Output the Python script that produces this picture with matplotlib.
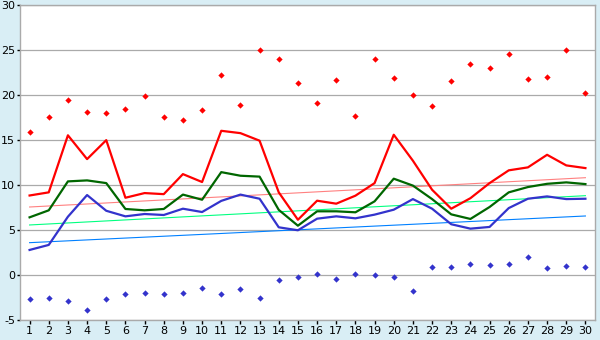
import matplotlib
matplotlib.use("Agg")
import matplotlib.pyplot as plt

plt.rcParams["axes.unicode_minus"] = False

days = list(range(1, 31))

# daily maximum / minimum points
max_points = [15.85, 17.5, 19.4, 18.1, 18.0, 18.4, 19.85, 17.5, 17.2, 18.3,
              22.2, 18.85, 25.0, 24.0, 21.3, 19.1, 21.6, 17.7, 24.0, 21.85,
              19.95, 18.75, 21.5, 23.4, 22.95, 24.5, 21.75, 21.95, 25.0, 20.2]
min_points = [-2.7, -2.6, -2.9, -3.9, -2.7, -2.15, -2.0, -2.15, -2.0, -1.5,
              -2.15, -1.6, -2.6, -0.6, -0.25, 0.07, -0.5, 0.07, -0.04, -0.25,
              -1.8, 0.85, 0.85, 1.2, 1.07, 1.2, 1.96, 0.74, 0.96, 0.85]

# daily curves
red_line = [8.8, 9.15, 15.5, 12.85, 14.96, 8.55, 9.07, 8.95, 11.18, 10.3,
            16.0, 15.74, 14.9, 9.15, 6.1, 8.22, 7.89, 8.78, 10.18, 15.56,
            12.67, 9.44, 7.33, 8.5, 10.18, 11.6, 11.93, 13.33, 12.15, 11.85]
green_line = [6.37, 7.15, 10.37, 10.48, 10.18, 7.3, 7.15, 7.3, 8.9, 8.33,
              11.4, 11.0, 10.9, 7.2, 5.44, 7.04, 7.04, 6.93, 8.15, 10.67,
              9.9, 8.4, 6.7, 6.19, 7.52, 9.15, 9.74, 10.1, 10.26, 10.07]
blue_line = [2.74, 3.3, 6.44, 8.85, 7.1, 6.48, 6.74, 6.63, 7.33, 6.96,
             8.2, 8.9, 8.44, 5.26, 4.93, 6.22, 6.48, 6.26, 6.67, 7.22,
             8.4, 7.33, 5.6, 5.11, 5.3, 7.4, 8.44, 8.7, 8.4, 8.44]

# trend lines: value at first and last day
trend_days = [1, 30]
red_trend = [7.52, 10.78]
green_trend = [5.52, 8.78]
blue_trend = [3.55, 6.52]

y_ticks = list(range(-5, 31, 5))

bg = "#d9eef5"
fig = plt.figure(figsize=(6, 3.4), dpi=100, facecolor=bg)
ax = fig.add_axes([20 / 600, 20.5 / 340, 575 / 600, 314.5 / 340])
ax.set_facecolor("white")

for y in y_ticks:
    ax.axhline(y, color="#aaaaaa", linewidth=0.9, zorder=1)

ax.plot(trend_days, red_trend, color="#ff8080", linewidth=0.8, zorder=2)
ax.plot(trend_days, green_trend, color="#00ff80", linewidth=0.8, zorder=2)
ax.plot(trend_days, blue_trend, color="#0080ff", linewidth=0.8, zorder=2)

ax.plot(days, red_line, color="#ff0000", linewidth=1.6, zorder=3)
ax.plot(days, green_line, color="#006600", linewidth=1.6, zorder=3)
ax.plot(days, blue_line, color="#3333cc", linewidth=1.6, zorder=3)

ax.plot(days, max_points, linestyle="none", marker="D", markersize=3.2,
        color="#ff0000", markeredgewidth=0, zorder=4)
ax.plot(days, min_points, linestyle="none", marker="D", markersize=3.2,
        color="#3333cc", markeredgewidth=0, zorder=4)

ax.set_xlim(0.5, 30.5)
ax.set_ylim(-5, 30)
ax.set_xticks(days)
ax.set_yticks(y_ticks)
ax.tick_params(axis="both", direction="out", length=3, width=1, color="black",
               labelsize=8, labelcolor="black", pad=2)
ax.tick_params(axis="y", length=2, pad=1.5)

for side in ["left", "right", "top", "bottom"]:
    ax.spines[side].set_color("#aaaaaa")
    ax.spines[side].set_linewidth(1)

fig.savefig("out.png", dpi=100, facecolor=bg)
